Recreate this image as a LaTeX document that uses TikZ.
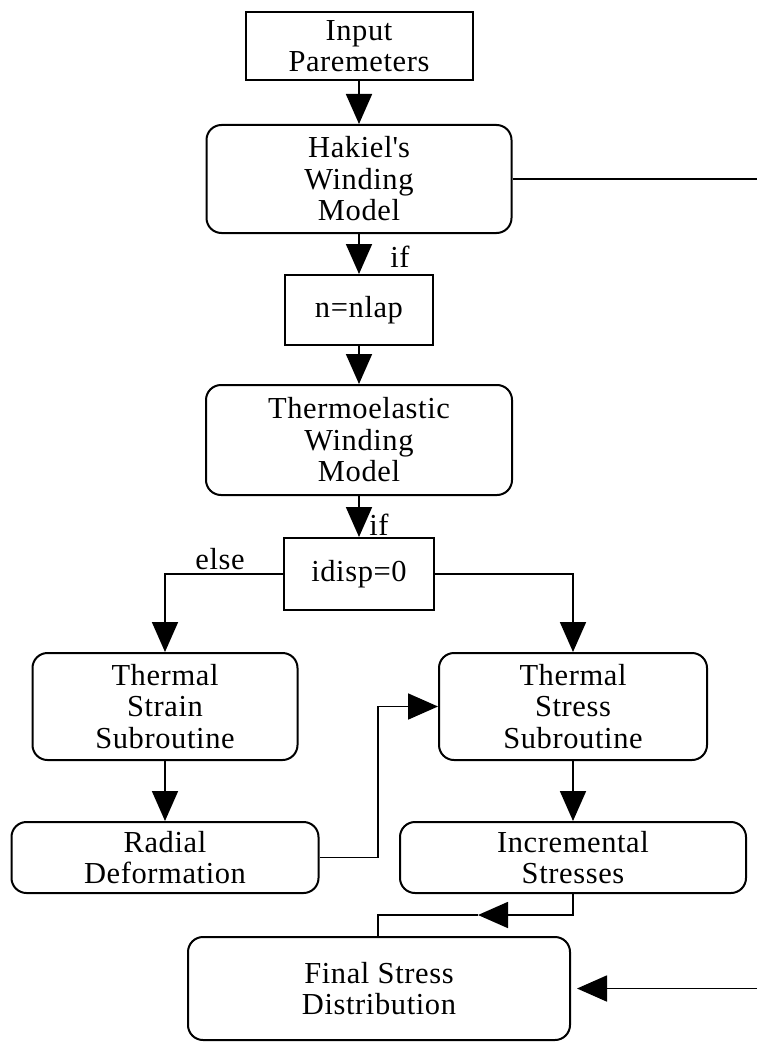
\documentclass[tikz,border=0pt]{standalone}
\usepackage{fontspec}
\setmainfont[LetterSpace=2]{Liberation Serif}
\usetikzlibrary{arrows.meta}

\begin{document}
\begin{tikzpicture}[x=1pt, y=-1pt, line width=1.8pt,
	every node/.style={font=\fontsize{30.5}{31.5}\selectfont},
	box/.style={draw, rectangle, align=center, inner sep=0pt, line width=2pt},
	rbox/.style={box, rounded corners=15pt},
	arr/.style={-{Triangle[length=30pt,width=26pt]}}]
				\useasboundingbox (0,0) rectangle (757,1043);
				% main column
				\node [box, minimum width=227pt, minimum height=68pt] (input) at (359,46) {Input\\Paremeters};
				\node [rbox, minimum width=305pt, minimum height=108pt] (hakiel) at (359,179) {Hakiel\textquotesingle s\\Winding\\Model};
				\node [box, minimum width=148pt, minimum height=70pt] (nlap) at (359,310) {n=nlap};
				\node [rbox, minimum width=306pt, minimum height=110pt] (thermo) at (359,440) {Thermoelastic\\Winding\\Model};
				\node [box, minimum width=150pt, minimum height=72pt] (idisp) at (359,574) {idisp=0};
				% two branches
				\node [rbox, minimum width=265pt, minimum height=107pt] (strain) at (165,706.5) {Thermal\\Strain\\Subroutine};
				\node [rbox, minimum width=268pt, minimum height=107pt] (stress) at (573,706.5) {Thermal\\Stress\\Subroutine};
				\node [rbox, minimum width=307pt, minimum height=71pt] (radial) at (165,857.5) {Radial\\Deformation};
				\node [rbox, minimum width=346pt, minimum height=71pt] (incr) at (573,857.5) {Incremental\\Stresses};
				\node [rbox, minimum width=382pt, minimum height=103pt] (final) at (379,988.5) {Final Stress\\Distribution};
				% labels
				\node [anchor=base] (if1) at (400,267) {if};
				\node [anchor=base] (if2) at (379,535) {if};
				\node [anchor=base] (else) at (220,569) {else};
				% free ends and bends
				\coordinate (hkout) at (757,179);
				\coordinate (fsin) at (757,988.5);
				\coordinate (bend) at (378,857.5);
				\coordinate (c1) at (573,915);
				\coordinate (c2) at (478,915);
				\coordinate (c3) at (378,915);
				\draw [arr] (input) -- (hakiel);
				\draw (hakiel.east) -- (hkout);
				\draw [arr] (hakiel) -- (nlap);
				\draw [arr] (nlap) -- (thermo);
				\draw [arr] (thermo) -- (idisp);
				\draw [arr] (idisp.west) -| (strain.north);
				\draw [arr] (idisp.east) -| (stress.north);
				\draw [arr] (strain) -- (radial);
				\draw [arr] (stress) -- (incr);
				\draw [arr] (radial.east) -- (bend) |- (stress.west);
				\draw [arr] (incr.south) -- (c1) -- (c2);
				\draw (c2) -- (c3) -- (final.north -| c3);
				\draw [arr, shorten >=6pt] (fsin) -- (final.east);
			\end{tikzpicture}
\end{document}
